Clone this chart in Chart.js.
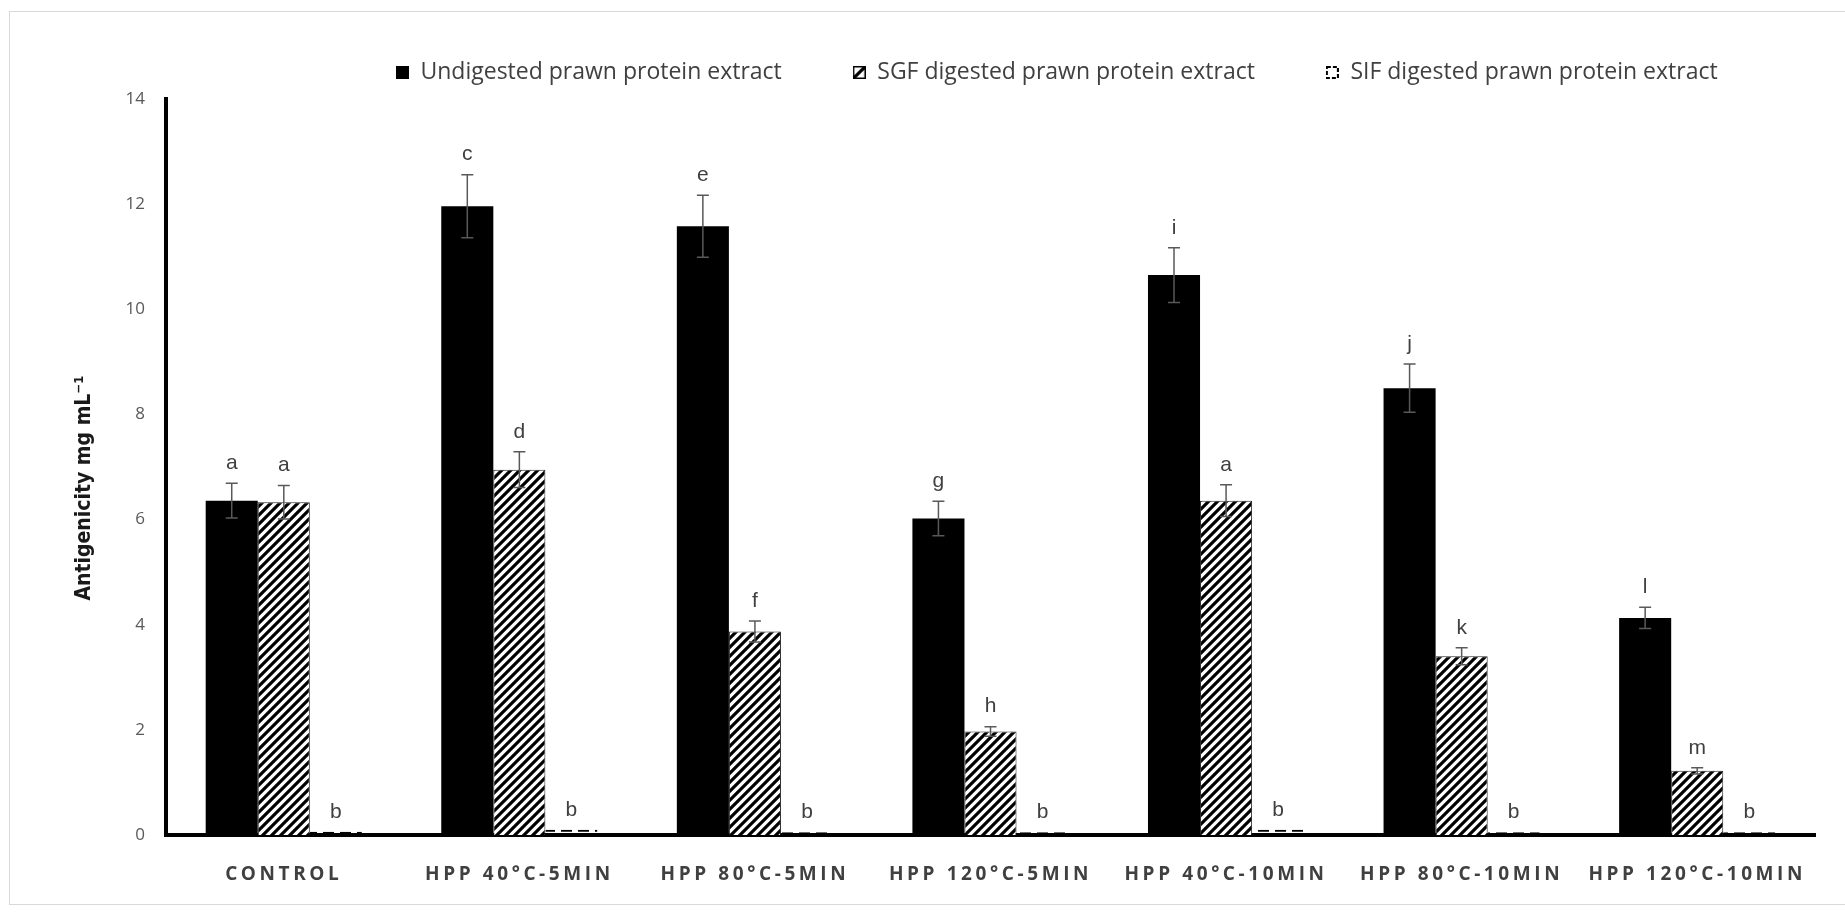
<!DOCTYPE html>
<html>
<head>
<meta charset="utf-8">
<script src="https://cdn.jsdelivr.net/npm/chart.js@4.4.0/dist/chart.umd.min.js"></script>
<style>
  body { margin: 0; background: #fff; }
  #wrap { position: relative; width: 1845px; height: 915px; }
  #frame { position: absolute; left: 9px; top: 11px; right: -2px; bottom: 10px; border: 1px solid #d9d9d9; }
</style>
</head>
<body>
<div id="wrap">
  <div id="frame"></div>
  <canvas id="myChart"></canvas>
</div>
<script>
const categories = ['CONTROL', 'HPP 40°C-5MIN', 'HPP 80°C-5MIN', 'HPP 120°C-5MIN', 'HPP 40°C-10MIN', 'HPP 80°C-10MIN', 'HPP 120°C-10MIN'];
const seriesNames = ['Undigested prawn protein extract', 'SGF digested prawn protein extract', 'SIF digested prawn protein extract'];
const yTitleText = 'Antigenicity mg mL⁻¹';

const undigested = [6.36, 11.96, 11.58, 6.02, 10.65, 8.50, 4.13];
const sgfDigested = [6.33, 6.95, 3.87, 1.97, 6.36, 3.40, 1.22];
const sifDigested = [0.06, 0.10, 0.05, 0.05, 0.10, 0.05, 0.05];

const errUndigested = [0.33, 0.60, 0.59, 0.33, 0.52, 0.46, 0.20];
const errSgf = [0.32, 0.34, 0.20, 0.09, 0.30, 0.16, 0.06];
const errSif = [0, 0, 0, 0, 0, 0, 0];

const lettersUndigested = ['a', 'c', 'e', 'g', 'i', 'j', 'l'];
const lettersSgf = ['a', 'd', 'f', 'h', 'a', 'k', 'm'];
const lettersSif = ['b', 'b', 'b', 'b', 'b', 'b', 'b'];

const yTicks = [0, 2, 4, 6, 8, 10, 12, 14];

const errors = [errUndigested, errSgf, errSif];
const letters = [lettersUndigested, lettersSgf, lettersSif];

const ctx = document.getElementById('myChart');
const g2d = ctx.getContext('2d');

// diagonal stripes for the SGF bars
function makeHatch() {
  const c = document.createElement('canvas');
  c.width = 9; c.height = 9;
  const g = c.getContext('2d');
  g.fillStyle = '#fff';
  g.fillRect(0, 0, 9, 9);
  g.strokeStyle = '#000';
  g.lineWidth = 3.2;
  g.beginPath();
  g.moveTo(-2, 11); g.lineTo(11, -2);
  g.moveTo(-2, 2); g.lineTo(2, -2);
  g.moveTo(7, 11); g.lineTo(11, 7);
  g.stroke();
  return g2d.createPattern(c, 'repeat');
}

// dashed top edge for the SIF bars
function makeDashes() {
  const c = document.createElement('canvas');
  c.width = 17; c.height = 4;
  const g = c.getContext('2d');
  g.fillStyle = '#000';
  g.fillRect(0, 0, 11, 4);
  return g2d.createPattern(c, 'repeat');
}

function legendIcon(kind) {
  const c = document.createElement('canvas');
  c.width = 13; c.height = 13;
  const g = c.getContext('2d');
  if (kind === 'solid') {
    g.fillStyle = '#000';
    g.fillRect(0, 0, 13, 13);
  } else if (kind === 'hatch') {
    g.fillStyle = '#fff';
    g.fillRect(0, 0, 13, 13);
    g.strokeStyle = '#000';
    g.lineWidth = 1.5;
    g.strokeRect(0.75, 0.75, 11.5, 11.5);
    g.lineWidth = 3.2;
    g.beginPath();
    g.moveTo(0, 13); g.lineTo(13, 0);
    g.stroke();
  } else {
    g.strokeStyle = '#000';
    g.lineWidth = 2;
    g.setLineDash([4, 2]);
    g.strokeRect(1, 1, 11, 11);
  }
  return c;
}

const legendPlace = {
  id: 'legendPlace',
  afterLayout(chart) {
    chart.legend.left = 325;
    chart.legend.top = -10;
  }
};

const errorBars = {
  id: 'errorBars',
  afterDatasetsDraw(chart) {
    const c = chart.ctx;
    const yScale = chart.scales.y;
    c.save();
    chart.data.datasets.forEach((ds, i) => {
      const meta = chart.getDatasetMeta(i);
      meta.data.forEach((bar, j) => {
        const v = ds.data[j];
        const e = errors[i][j];
        const top = yScale.getPixelForValue(v + e);
        if (e > 0) {
          const bottom = yScale.getPixelForValue(v - e);
          c.strokeStyle = '#595959';
          c.lineWidth = 1.5;
          c.beginPath();
          c.moveTo(bar.x, top); c.lineTo(bar.x, bottom);
          c.moveTo(bar.x - 6, top); c.lineTo(bar.x + 6, top);
          c.moveTo(bar.x - 6, bottom); c.lineTo(bar.x + 6, bottom);
          c.stroke();
        }
        c.fillStyle = '#404040';
        c.font = '21px "Liberation Sans", Arial, sans-serif';
        c.textAlign = 'center';
        c.textBaseline = 'middle';
        c.fillText(letters[i][j], bar.x, top - 20);
      });
    });
    c.restore();
    // x tick labels are drawn after this (z: 1) and are letter-spaced
    c.letterSpacing = '3.6px';
  },
  afterDraw(chart) {
    const c = chart.ctx;
    const area = chart.chartArea;
    c.letterSpacing = '0px';
    // y axis title, sits a little below the middle of the axis
    c.save();
    c.translate(85, (area.top + area.bottom) / 2 + 21);
    c.rotate(-Math.PI / 2);
    c.font = 'bold 21px "Liberation Sans Narrow", "DejaVu Sans Condensed", sans-serif';
    c.fillStyle = '#1a1a1a';
    c.textAlign = 'center';
    c.textBaseline = 'middle';
    c.fillText(yTitleText, 0, 0);
    c.restore();
  }
};

new Chart(ctx, {
  type: 'bar',
  data: {
    labels: categories,
    datasets: [
      {
        label: seriesNames[0],
        data: undigested,
        backgroundColor: '#000',
        borderWidth: 0,
        pointStyle: legendIcon('solid')
      },
      {
        label: seriesNames[1],
        data: sgfDigested,
        backgroundColor: makeHatch(),
        borderColor: '#222',
        borderWidth: 1,
        pointStyle: legendIcon('hatch')
      },
      {
        label: seriesNames[2],
        data: sifDigested,
        backgroundColor: 'rgba(0,0,0,0)',
        borderColor: makeDashes(),
        borderWidth: { top: 2, right: 0, bottom: 0, left: 0 },
        pointStyle: legendIcon('dash')
      }
    ]
  },
  options: {
    animation: false,
    responsive: true,
    maintainAspectRatio: false,
    datasets: {
      bar: { categoryPercentage: 0.663, barPercentage: 1 }
    },
    layout: { padding: { left: 0, right: 30, top: 0, bottom: 0 } },
    plugins: {
      legend: {
        position: 'top',
        align: 'start',
        maxHeight: 99,
        labels: {
          usePointStyle: true,
          boxWidth: 13,
          boxHeight: 13,
          padding: 71,
          color: '#404040',
          font: { family: '"Open Sans", sans-serif', size: 23 }
        }
      },
      tooltip: { enabled: false }
    },
    scales: {
      x: {
        grid: { display: false },
        border: { color: '#000', width: 4 },
        ticks: {
          z: 1,
          color: '#404040',
          padding: 20,
          maxRotation: 0,
          autoSkip: false,
          font: { family: '"Open Sans", sans-serif', size: 19, weight: 'bold' }
        },
        afterFit(scale) { scale.height = 80; }
      },
      y: {
        min: 0,
        max: 14,
        afterBuildTicks(scale) { scale.ticks = yTicks.map(v => ({ value: v })); },
        grid: { display: false, drawTicks: false },
        border: { color: '#000', width: 4 },
        ticks: {
          padding: 21,
          color: '#595959',
          font: { family: '"Open Sans", sans-serif', size: 17 }
        },
        afterFit(scale) { scale.width = 166; }
      }
    }
  },
  plugins: [legendPlace, errorBars]
});
</script>
</body>
</html>
